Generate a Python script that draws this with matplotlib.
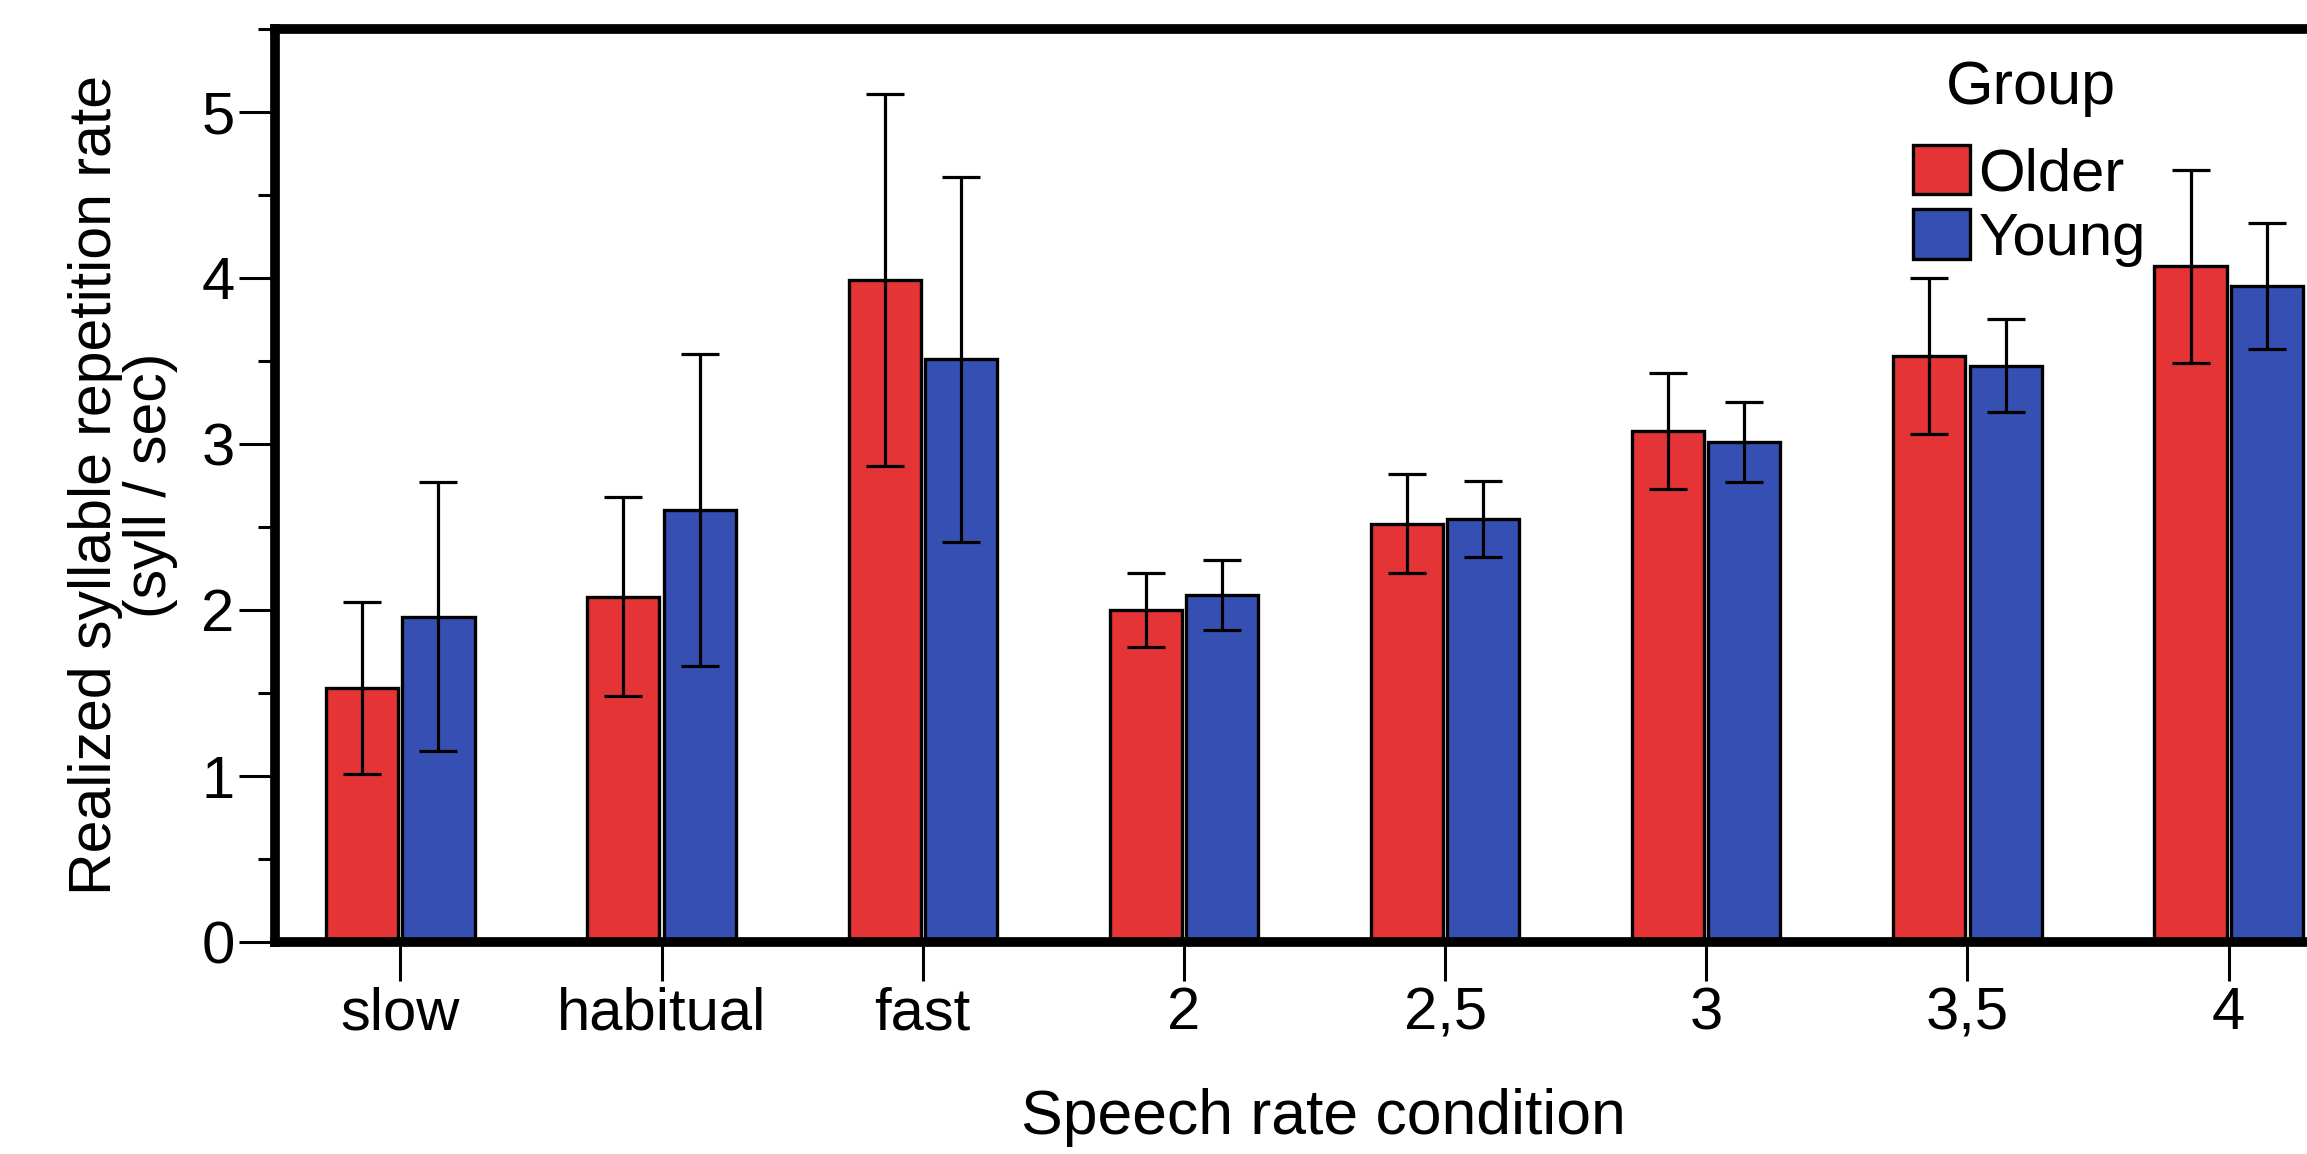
import numpy as np
import matplotlib
matplotlib.use('Agg')
import matplotlib.pyplot as plt
from matplotlib.ticker import MultipleLocator

conditions = ['slow', 'habitual', 'fast', '2', '2,5', '3', '3,5', '4']
older_mean = [1.53, 2.08, 3.99, 2.00, 2.52, 3.08, 3.53, 4.07]
older_sd = [0.52, 0.60, 1.12, 0.22, 0.30, 0.35, 0.47, 0.58]
young_mean = [1.96, 2.60, 3.51, 2.09, 2.55, 3.01, 3.47, 3.95]
young_sd = [0.81, 0.94, 1.10, 0.21, 0.23, 0.24, 0.28, 0.38]
groups = ['Older', 'Young']

plt.rcParams['font.family'] = ['Liberation Sans', 'DejaVu Sans']

red = '#e43436'
blue = '#3550b2'

fig = plt.figure(figsize=(23.07, 11.54), dpi=100)
ax = fig.add_axes([0.1192, 0.1837, 0.8808, 0.7912])

x = np.arange(len(conditions))
w = 0.276
err_kw = dict(elinewidth=2.3, capsize=14, capthick=2.3, ecolor='black')
ax.bar(x - w / 2 - 0.008, older_mean, w, yerr=older_sd, color=red,
       edgecolor='black', linewidth=2.4, label=groups[0], error_kw=err_kw)
ax.bar(x + w / 2 + 0.008, young_mean, w, yerr=young_sd, color=blue,
       edgecolor='black', linewidth=2.4, label=groups[1], error_kw=err_kw)

ax.set_xlim(-0.48, 7.30)
ax.set_ylim(0, 5.5)
ax.set_xticks(x)
ax.set_xticklabels(conditions)
ax.yaxis.set_major_locator(MultipleLocator(1))
ax.yaxis.set_minor_locator(MultipleLocator(0.5))

for side in ['left', 'bottom', 'top']:
    ax.spines[side].set_linewidth(7)
ax.spines['right'].set_visible(False)

ax.tick_params(axis='y', which='major', length=26, width=2.2, labelsize=43, pad=3)
ax.tick_params(axis='y', which='minor', length=12, width=2.2)
ax.tick_params(axis='x', which='major', length=28, width=2.2, labelsize=43, pad=4)

ax.set_xlabel('Speech rate condition', fontsize=45)
ax.xaxis.set_label_coords(0.516, -0.160)
ax.set_ylabel('Realized syllable repetition rate\n(syll / sec)', fontsize=42.5,
              labelpad=17, linespacing=1.0)

ax.text(0.864, 0.935, 'Group', transform=ax.transAxes, fontsize=44,
        ha='center', va='center')
leg = ax.legend(loc='upper left', bbox_to_anchor=(0.806, 0.873),
                frameon=False, fontsize=43,
                handlelength=0.95, handleheight=0.9, handletextpad=0.15,
                labelspacing=0.12, borderpad=0, borderaxespad=0)
for h in leg.legend_handles:
    h.set_linewidth(2.4)

fig.savefig('out.png', dpi=100)
